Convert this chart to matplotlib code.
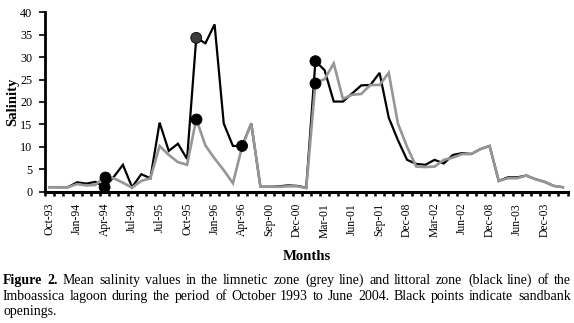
import matplotlib
matplotlib.use("Agg")
import matplotlib.pyplot as plt
import numpy as np

# ---------------- data ----------------
tick_labels = ["Oct-93", "Jan-94", "Apr-94", "Jul-94", "Jul-95", "Oct-95", "Jan-96",
               "Apr-96", "Sep-00", "Dec-00", "Mar-01", "Jun-01", "Sep-01", "Dec-08",
               "Mar-02", "Jun-02", "Dec-08", "Jun-03", "Dec-03"]

littoral_black = [1.0, 1.0, 1.0, 2.1, 1.8, 2.2, 1.0, 3.3, 6.0, 1.0, 3.9, 3.0, 15.4, 9.1,
                  10.7, 7.3, 34.3, 33.1, 37.3, 15.2, 10.2, 10.2, 15.2, 1.1, 1.1, 1.2, 1.4,
                  1.3, 0.9, 29.1, 27.1, 20.1, 20.1, 21.9, 23.7, 23.8, 26.5, 16.5, 11.5,
                  7.1, 6.2, 6.0, 7.1, 6.3, 8.2, 8.6, 8.4, 9.5, 10.2, 2.4, 3.2, 3.2, 3.6,
                  2.8, 2.2, 1.3, 1.0]

limnetic_grey = [1.0, 1.0, 1.0, 1.7, 1.4, 1.5, 3.3, 3.0, 2.0, 0.9, 2.4, 3.0, 10.2, 8.2,
                 6.6, 6.0, 16.2, 10.3, 7.4, 4.8, 1.9, 10.0, 15.2, 1.1, 1.1, 1.1, 1.2,
                 1.2, 0.8, 24.3, 25.1, 28.6, 20.7, 21.6, 21.8, 23.8, 23.8, 26.5, 15.2,
                 10.0, 5.6, 5.5, 5.6, 7.1, 7.6, 8.4, 8.4, 9.5, 10.2, 2.4, 3.0, 3.0, 3.6,
                 2.8, 2.2, 1.3, 1.0]

# sandbank openings (month indices on each series)
openings_black = [6, 16, 21, 29]
openings_grey = [6, 16, 29]

caption_line1 = "Mean salinity values in the limnetic zone (grey line) and littoral zone (black line) of the"
caption_line2 = "Imboassica lagoon during the period of October 1993 to June 2004. Black points indicate sandbank"
caption_line3 = "openings."

# ---------------- figure ----------------
W, H = 574, 323
fig = plt.figure(figsize=(W / 100, H / 100), dpi=100)
serif = "Liberation Serif"

ax_left, ax_right, ax_top, ax_bot = 45, 567.5, 12.3, 191.7
ax = fig.add_axes([ax_left / W, 1 - ax_bot / H, (ax_right - ax_left) / W, (ax_bot - ax_top) / H])

n = len(littoral_black)
x = np.arange(n)

ax.plot(x, littoral_black, color="black", lw=1.6, zorder=2, solid_joinstyle="miter")
ax.plot(x, limnetic_grey, color="#969696", lw=1.9, zorder=3, solid_joinstyle="miter")

ob = np.array(openings_black)
og = np.array(openings_grey)
bvals = np.array(littoral_black)[ob]
gvals = np.array(limnetic_grey)[og]
bcols = ["#3c3c3c" if v > 34 else "black" for v in bvals]
ax.scatter(ob, bvals, s=62, c=bcols, edgecolors="black", linewidths=0.6, zorder=5)
ax.scatter(og, gvals, s=62, c="black", edgecolors="black", linewidths=0.6, zorder=5)

ax.set_xlim(-0.5, n - 0.5)
ax.set_ylim(0, 40)

for s in ["top", "right"]:
    ax.spines[s].set_visible(False)
ax.spines["left"].set_linewidth(2.0)
ax.spines["bottom"].set_linewidth(2.2)

ax.set_yticks(np.arange(0, 41, 5))
ax.set_yticklabels([str(v) for v in range(0, 41, 5)], fontfamily=serif, fontsize=8.7)
ax.tick_params(axis="y", direction="out", length=4, width=1.2, pad=5)

ax.set_xticks(np.arange(0, n, 3))
ax.set_xticklabels(tick_labels, rotation=90, fontfamily=serif, fontsize=8.4)
ax.set_xticks(np.arange(-0.5, n, 1), minor=True)
ax.tick_params(axis="x", which="major", length=0, pad=8)
ax.tick_params(axis="x", which="minor", direction="out", length=3, width=1.8)

fig.text(12.5 / W, 1 - 102 / H, "Salinity", rotation=90, ha="center", va="center",
         fontfamily=serif, fontweight="bold", fontsize=10.5)
fig.text(307 / W, 1 - 259.5 / H, "Months", ha="center", va="baseline",
         fontfamily=serif, fontweight="bold", fontsize=10.6)

# ---------------- justified caption ----------------
lines = [
    ([("Figure", True), ("2.", True)] + [(w, False) for w in caption_line1.split()], 284, True),
    ([(w, False) for w in caption_line2.split()], 300, True),
    ([(w, False) for w in caption_line3.split()], 315, False),
]
fig.canvas.draw()
renderer = fig.canvas.get_renderer()
x0, x1 = 3, 571
target_gap = 5.0

# fit font size so that line 1 has natural-looking gaps
fs0 = 10.0
probe = []
for w, b in lines[0][0]:
    probe.append(fig.text(0, 0, w, fontfamily=serif, fontsize=fs0,
                          fontweight="bold" if b else "normal"))
w0 = sum(t.get_window_extent(renderer).width for t in probe)
for t in probe:
    t.remove()
fs = fs0 * (x1 - x0 - target_gap * (len(lines[0][0]) - 1)) / w0

for words, yb, just in lines:
    texts = []
    for w, b in words:
        t = fig.text(0, 1 - yb / H, w, fontfamily=serif, fontsize=fs,
                     fontweight="bold" if b else "normal", va="baseline", ha="left")
        texts.append(t)
    widths = [t.get_window_extent(renderer).width for t in texts]
    if just and len(texts) > 1:
        gap = (x1 - x0 - sum(widths)) / (len(texts) - 1)
    else:
        gap = target_gap
    cx = x0
    for t, wd in zip(texts, widths):
        t.set_x(round(cx) / W)
        cx += wd + gap

fig.savefig("out.png", dpi=100)
